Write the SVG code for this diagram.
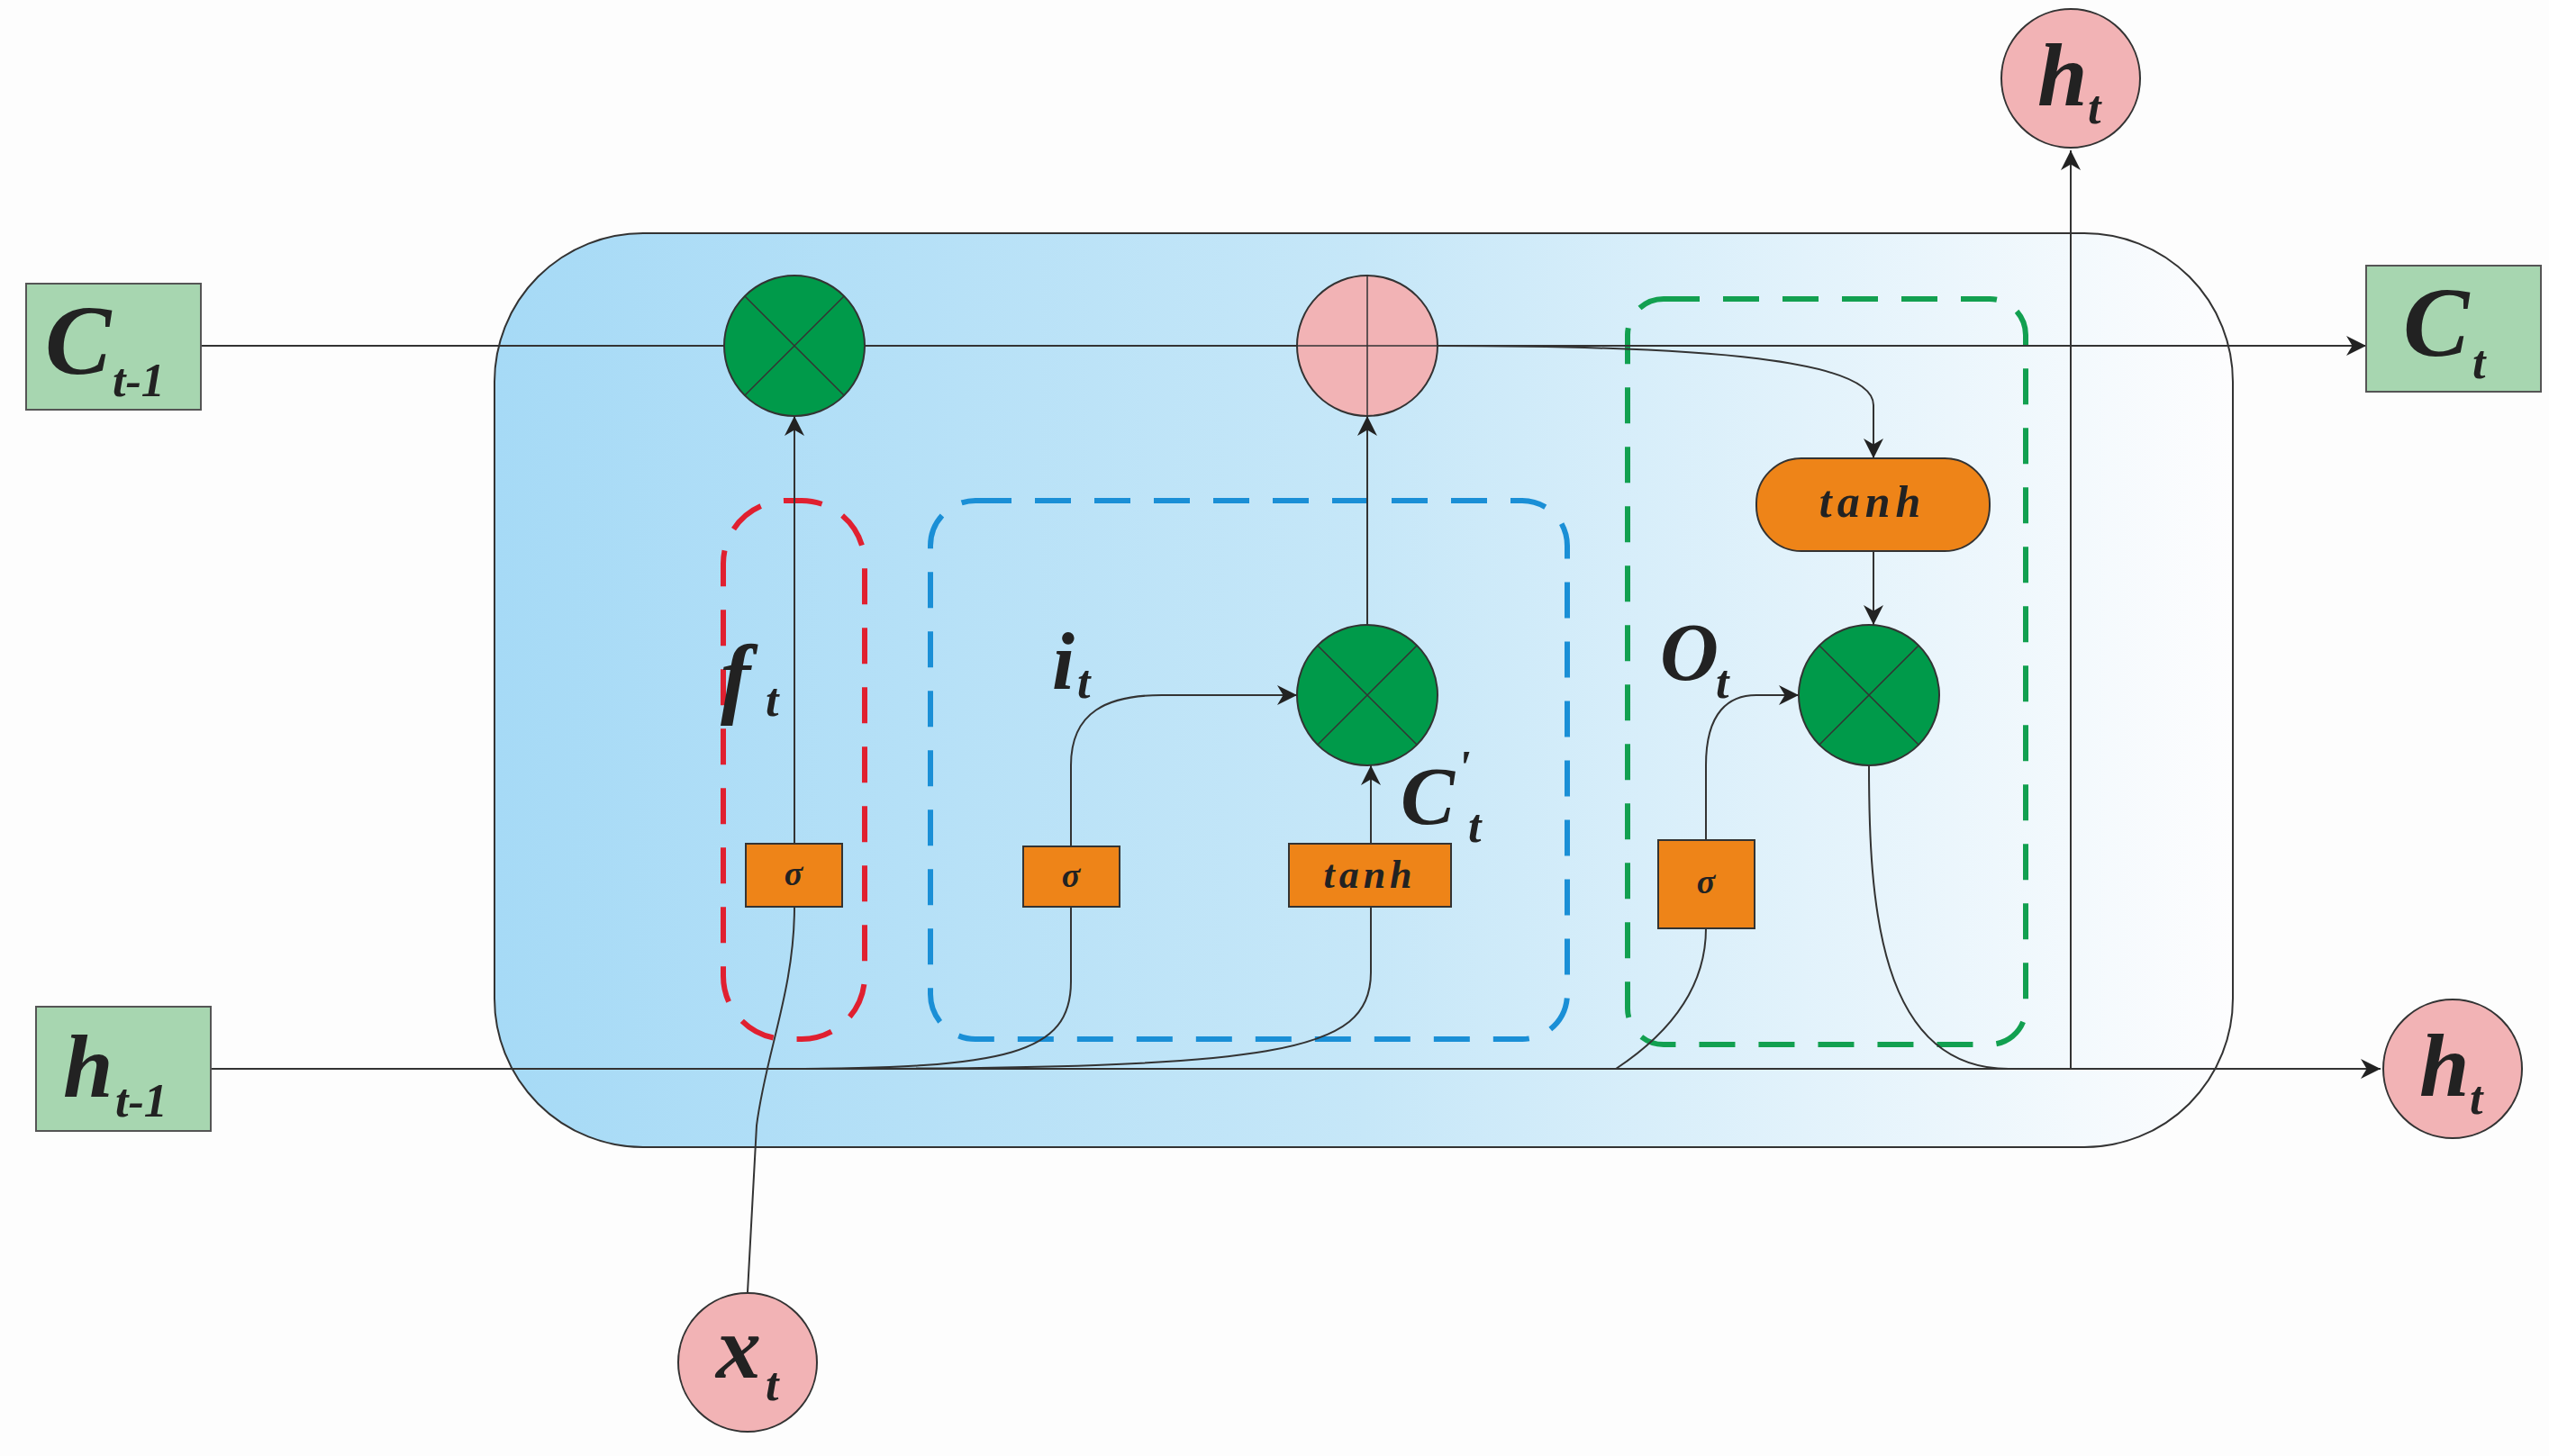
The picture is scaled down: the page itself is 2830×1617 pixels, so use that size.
<svg xmlns="http://www.w3.org/2000/svg" width="2830" height="1617" viewBox="0 0 2830 1617">
<style>
.lbl{font-family:"Liberation Serif",serif;font-weight:bold;font-style:italic;fill:#222}
.ln{fill:none;stroke:#333;stroke-width:2}
.gate{fill:#009a4a;stroke:#333;stroke-width:2}
.pink{fill:#f2b3b5;stroke:#333;stroke-width:2}
.box{fill:#a7d6b0;stroke:#555;stroke-width:2}
.org{fill:#ee8418;stroke:#333;stroke-width:2}
.xl{stroke:#333;stroke-width:1.5}
</style>
<defs>
<linearGradient id="bg" x1="0" x2="1" y1="0" y2="0">
<stop offset="0" stop-color="#a6daf6"/><stop offset="0.5" stop-color="#c6e7f8"/><stop offset="1" stop-color="#fdfdfe"/>
</linearGradient>
<marker id="ar" viewBox="0 0 10 10" refX="10" refY="5" markerWidth="14" markerHeight="14" markerUnits="userSpaceOnUse" orient="auto"><path d="M0,0 L10,5 L0,10 L3,5 z" fill="#222"/></marker>
<marker id="arL" viewBox="0 0 10 10" refX="10" refY="5" markerWidth="22" markerHeight="22" markerUnits="userSpaceOnUse" orient="auto"><path d="M0,0 L10,5 L0,10 L3,5 z" fill="#222"/></marker>
</defs>
<rect width="2830" height="1617" fill="#fdfdfd"/>
<g id="cell"><rect x="549" y="259" width="1930" height="1015" rx="165" fill="url(#bg)" stroke="#333" stroke-width="2"/></g>
<g id="groups" fill="none" stroke-width="6" stroke-dasharray="40,26">
<rect x="803" y="556" width="157" height="598" rx="70" stroke="#e02030"/>
<rect x="1033" y="556" width="707" height="598" rx="50" stroke="#1a8fd6"/>
<rect x="1807" y="332" width="442" height="828" rx="40" stroke="#12a050"/>
</g>
<g id="connectors">
<path class="ln" d="M223 384 L2627 384" marker-end="url(#arL)"/>
<path class="ln" d="M234 1187 L2643 1187" marker-end="url(#arL)"/>
<path class="ln" d="M2299 1187 L2299 167" marker-end="url(#arL)"/>
<path class="ln" d="M882 937 L882 462" marker-end="url(#arL)"/>
<path class="ln" d="M1518 694 L1518 462" marker-end="url(#arL)"/>
<path class="ln" d="M1522 937 L1522 850" marker-end="url(#arL)"/>
<path class="ln" d="M1189 940 L1189 850 C1189 790 1230 772 1290 772 L1440 772" marker-end="url(#arL)"/>
<path class="ln" d="M1596 384 C1900 384 2080 400 2080 450 L2080 509" marker-end="url(#arL)"/>
<path class="ln" d="M2080 612 L2080 694" marker-end="url(#arL)"/>
<path class="ln" d="M1894 933 L1894 850 C1894 790 1920 772 1950 772 L1997 772" marker-end="url(#arL)"/>
<path class="ln" d="M2075 850 C2075 1000 2085 1187 2230 1187"/>
<path class="ln" d="M830 1435 L840 1250 C850 1170 882 1100 882 1007"/>
<path class="ln" d="M870 1187 C1120 1187 1189 1170 1189 1090 L1189 1007"/>
<path class="ln" d="M900 1187 C1420 1187 1522 1170 1522 1080 L1522 1007"/>
<path class="ln" d="M1794 1187 C1850 1150 1894 1100 1894 1031"/>
</g>
<g id="c_prev"><rect class="box" x="29" y="315" width="194" height="140"/><text class="lbl" x="50" y="415" font-size="110">C</text><text class="lbl" x="125" y="440" font-size="52">t-1</text></g>
<g id="c_t"><rect class="box" x="2627" y="295" width="194" height="140"/><text class="lbl" x="2668" y="395" font-size="110">C</text><text class="lbl" x="2745" y="420" font-size="52">t</text></g>
<g id="h_prev"><rect class="box" x="40" y="1118" width="194" height="138"/><text class="lbl" x="70" y="1218" font-size="100">h</text><text class="lbl" x="128" y="1240" font-size="52">t-1</text></g>
<g id="h_top"><circle class="pink" cx="2299" cy="87" r="77"/><text class="lbl" x="2262" y="117" font-size="100">h</text><text class="lbl" x="2318" y="137" font-size="52">t</text></g>
<g id="h_right"><circle class="pink" cx="2723" cy="1187" r="77"/><text class="lbl" x="2686" y="1217" font-size="100">h</text><text class="lbl" x="2742" y="1237" font-size="52">t</text></g>
<g id="x_t"><circle class="pink" cx="830" cy="1513" r="77"/><text class="lbl" x="795" y="1530" font-size="100">x</text><text class="lbl" x="850" y="1555" font-size="52">t</text></g>
<g id="mul_f"><circle class="gate" cx="882" cy="384" r="78"/><path class="xl" d="M827 329 L937 439 M937 329 L827 439"/></g>
<g id="add"><circle class="pink" cx="1518" cy="384" r="78"/><path class="xl" d="M1518 306 L1518 462 M1440 384 L1596 384"/></g>
<g id="mul_i"><circle class="gate" cx="1518" cy="772" r="78"/><path class="xl" d="M1463 717 L1573 827 M1573 717 L1463 827"/></g>
<g id="mul_o"><circle class="gate" cx="2075" cy="772" r="78"/><path class="xl" d="M2020 717 L2130 827 M2130 717 L2020 827"/></g>
<g id="sig_f"><rect class="org" x="828" y="937" width="107" height="70"/><text class="lbl" x="881" y="983" font-size="38" text-anchor="middle" font-style="normal">σ</text></g>
<g id="sig_i"><rect class="org" x="1136" y="940" width="107" height="67"/><text class="lbl" x="1189" y="985" font-size="38" text-anchor="middle" font-style="normal">σ</text></g>
<g id="tanh_c"><rect class="org" x="1431" y="937" width="180" height="70"/><text class="lbl" x="1521" y="986" font-size="44" text-anchor="middle" letter-spacing="5">tanh</text></g>
<g id="sig_o"><rect class="org" x="1841" y="933" width="107" height="98"/><text class="lbl" x="1894" y="992" font-size="38" text-anchor="middle" font-style="normal">σ</text></g>
<g id="tanh_o"><rect class="org" x="1950" y="509" width="259" height="103" rx="50"/><text class="lbl" x="2079" y="574" font-size="50" text-anchor="middle" letter-spacing="6">tanh</text></g>
<g id="labels">
<text class="lbl" x="800" y="785" font-size="100">f</text><text class="lbl" x="850" y="795" font-size="52">t</text>
<text class="lbl" x="1168" y="765" font-size="90">i</text><text class="lbl" x="1196" y="775" font-size="52">t</text>
<text class="lbl" x="1843" y="755" font-size="90">O</text><text class="lbl" x="1905" y="775" font-size="52">t</text>
<text class="lbl" x="1555" y="915" font-size="90">C</text><text class="lbl" x="1618" y="870" font-size="52">'</text><text class="lbl" x="1630" y="935" font-size="52">t</text>
</g>
</svg>
